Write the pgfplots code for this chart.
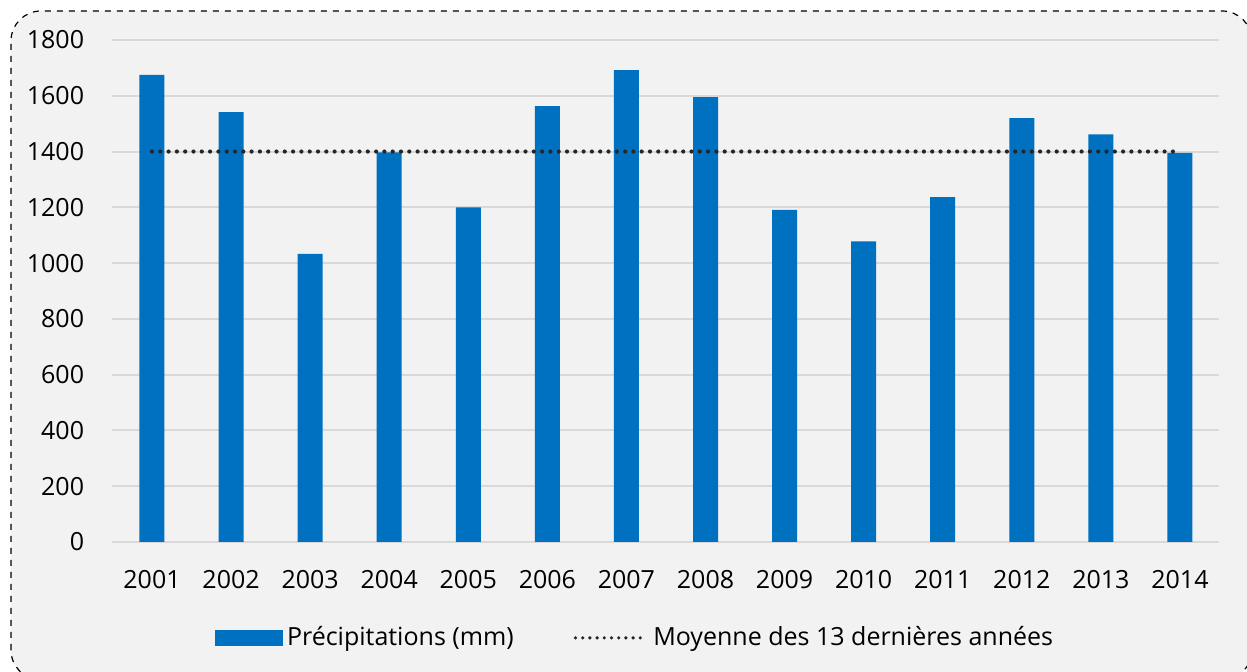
\documentclass[border=0pt]{standalone}
\usepackage{fontspec}
\setmainfont{Open Sans}
\usepackage{pgfplots}
\pgfplotsset{compat=1.18}
\definecolor{BarBlue}{RGB}{0,112,192}
\definecolor{PanelGray}{RGB}{242,242,242}
\definecolor{GridGray}{RGB}{217,217,217}
\definecolor{DotGray}{RGB}{38,38,38}

\pgfplotstableread{
x  year  rain
0  2001  1675
1  2002  1541
2  2003  1033
3  2004  1397
4  2005  1200
5  2006  1563
6  2007  1692
7  2008  1595
8  2009  1191
9  2010  1078
10 2011  1237
11 2012  1520
12 2013  1462
13 2014  1395
}\raindata

\begin{document}
\begin{tikzpicture}
% axis origin (x=0 -> 2001, y=0) sits at (0,0)
\path[use as bounding box] (-76pt,-65pt) rectangle (547.5pt,271pt);
\begin{scope}
\clip (-76pt,-65pt) rectangle (547.5pt,271pt);
\fill[white] (-76pt,-65pt) rectangle (547.5pt,271pt);
\draw[black, dashed, line width=0.6pt, rounded corners=15pt, fill=PanelGray]
  (-70.5pt,-69pt) rectangle (550pt,265.5pt);
\end{scope}
\begin{axis}[
    at={(0pt,0pt)}, anchor=origin,
    scale only axis,
    width=553.5pt, height=251pt,
    xmin=-0.5, xmax=13.5,
    ymin=0, ymax=1800,
    ytick={0,200,...,1800},
    xtick=data,
    xticklabels from table={\raindata}{year},
    axis line style={draw=none},
    major tick length=0pt,
    ymajorgrids=true,
    grid style={GridGray, line width=1pt},
    tick label style={font=\fontsize{12.5}{14}\selectfont, text=black},
    yticklabel style={inner sep=0pt, xshift=-14pt},
    xticklabel style={inner sep=0pt, yshift=-14pt},
    /pgf/number format/assume math mode=true,
    /pgf/number format/1000 sep={},
    legend columns=2,
    legend style={at={(rel axis cs:0.473,-0.191)}, anchor=center,
      draw=none, fill=none, font=\fontsize{12.5}{14}\selectfont,
      /tikz/every even column/.append style={column sep=28pt}},
    legend cell align=left,
]
\addplot[ybar, bar width=12.5pt, fill=BarBlue, draw=none,
  legend image code/.code={\fill[BarBlue] (0pt,-4pt) rectangle (34pt,4pt);}]
  table[x=x, y=rain] {\raindata};
\addlegendentry{Précipitations (mm)}
\addplot[DotGray, line width=2.1pt, line cap=round, dash pattern=on 0pt off 4.15pt,
  legend image code/.code={\draw[DotGray, line width=1.8pt, line cap=round,
    dash pattern=on 0pt off 3.6pt] (0pt,0pt) -- (36pt,0pt);}]
  coordinates {(0,1400) (13,1400)};
\addlegendentry{Moyenne des 13 dernières années}
\end{axis}
\end{tikzpicture}
\end{document}
